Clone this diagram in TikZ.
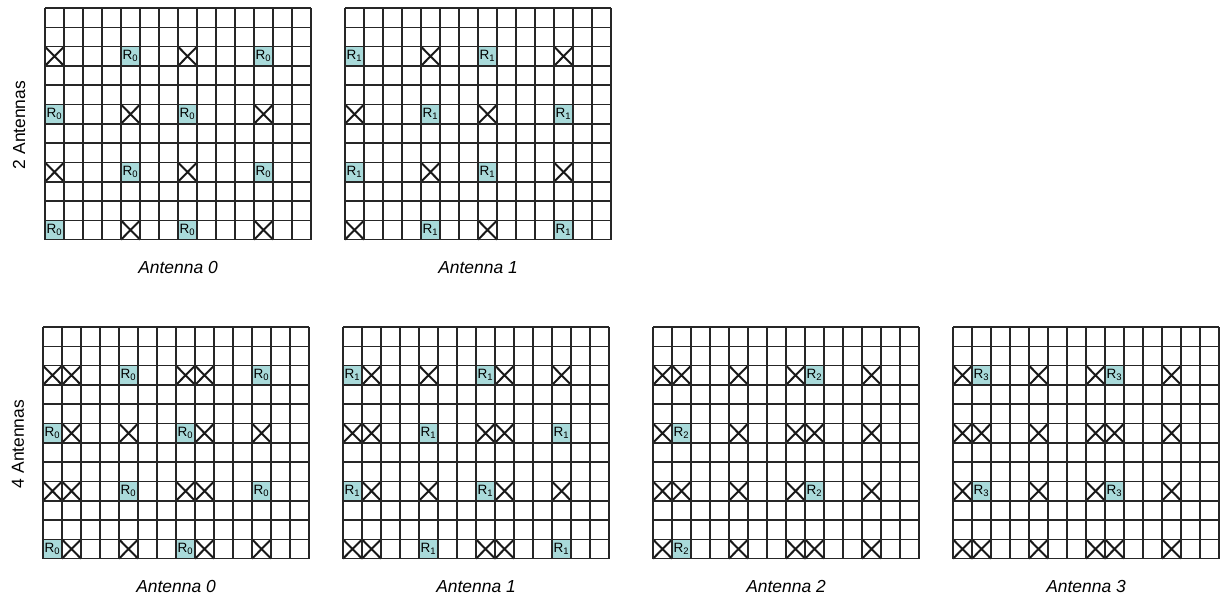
\documentclass[tikz,border=0pt]{standalone}
\usepackage{fontspec}
\setsansfont{Liberation Sans}
\usepackage{xcolor}
\usepackage{tikz}
\usetikzlibrary{positioning}

\definecolor{refblue}{HTML}{A9DADA}

\tikzset{
  gridline/.style={line width=1.1pt, draw=black!85},
  crossline/.style={line width=1.4pt, draw=black!90},
  refcell/.style={fill=refblue},
  reflabel/.style={font=\sffamily\fontsize{9.6}{10}\selectfont, inner sep=0pt},
  antlabel/.style={font=\sffamily\itshape\fontsize{12.4}{14}\selectfont, inner sep=0pt},
  sidelabel/.style={font=\sffamily\fontsize{12.4}{14}\selectfont, inner sep=0pt, rotate=90},
}

% one resource grid: #1 name, #2 top left corner, #3 antenna port,
% #4 marks in rows 2 and 8, #5 marks in rows 5 and 11 (col/1 = R, col/0 = X)
\newcommand{\rspanel}[5]{%
  \begin{scope}[shift={#2}, x=0.475cm, y=-0.4825cm]
    \foreach \row in {2,8} {
      \foreach \col/\kind in {#4} {
        \ifnum\kind=1\relax
          \fill[refcell] (\col,\row) rectangle ++(1,1);
          \node[reflabel] (#1-\row-\col) at (\col+0.5,\row+0.5) {R\textsubscript{#3}};
        \else
          \draw[crossline] (\col,\row) -- ++(1,1) (\col+1,\row) -- ++(-1,1);
        \fi
      }
    }
    \foreach \row in {5,11} {
      \foreach \col/\kind in {#5} {
        \ifnum\kind=1\relax
          \fill[refcell] (\col,\row) rectangle ++(1,1);
          \node[reflabel] (#1-\row-\col) at (\col+0.5,\row+0.5) {R\textsubscript{#3}};
        \else
          \draw[crossline] (\col,\row) -- ++(1,1) (\col+1,\row) -- ++(-1,1);
        \fi
      }
    }
    % grid lines
    \foreach \i in {0,...,14} \draw[gridline] (\i,0) -- (\i,12);
    \foreach \j in {0,...,12} \draw[gridline] (0,\j) -- (14,\j);
    \coordinate (#1-south) at (7,12);
  \end{scope}
  \node[antlabel] (#1-label) at ([yshift=-0.7cm]#1-south) {Antenna #3};
}

\begin{document}
\begin{tikzpicture}[x=0.025cm, y=-0.025cm]
    \useasboundingbox (0,0) rectangle (1220,599);

    % 2 antennas
    \node[sidelabel] (two) at (19,125) {2 Antennas};
    \rspanel{top0}{(45,8)}{0}{0/0,4/1,7/0,11/1}{0/1,4/0,7/1,11/0}
    \rspanel{top1}{(345,8)}{1}{0/1,4/0,7/1,11/0}{0/0,4/1,7/0,11/1}

    % 4 antennas
    \node[sidelabel] (four) at (18,444) {4 Antennas};
    \rspanel{quad0}{(43,327)}{0}{0/0,1/0,4/1,7/0,8/0,11/1}{0/1,1/0,4/0,7/1,8/0,11/0}
    \rspanel{quad1}{(343,327)}{1}{0/1,1/0,4/0,7/1,8/0,11/0}{0/0,1/0,4/1,7/0,8/0,11/1}
    \rspanel{quad2}{(653,327)}{2}{0/0,1/0,4/0,7/0,8/1,11/0}{0/0,1/1,4/0,7/0,8/0,11/0}
    \rspanel{quad3}{(953,327)}{3}{0/0,1/1,4/0,7/0,8/1,11/0}{0/0,1/0,4/0,7/0,8/0,11/0}
\end{tikzpicture}
\end{document}
